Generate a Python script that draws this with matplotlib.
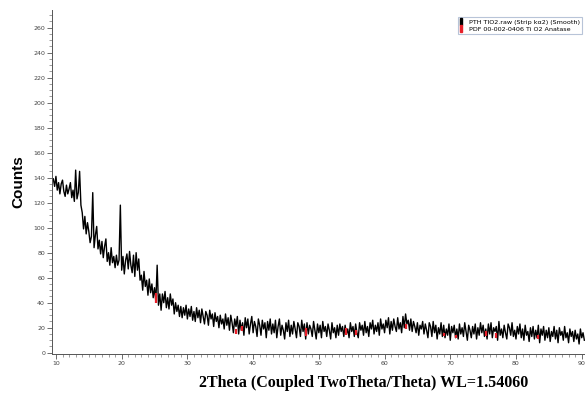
import numpy as np
import matplotlib.pyplot as plt
from matplotlib.patches import Patch
from matplotlib.ticker import MultipleLocator

# scan grid (2Theta, deg)
TTH_START = 9.6
TTH_STEP = 0.2

# smoothed counts; rows are whole degrees (first row 9.6-9.8, last 90.0-90.4)
counts = [
    139, 133,
    141, 130, 136, 127, 135,
    138, 129, 125, 134, 127,
    131, 136, 124, 130, 121,
    146, 123, 128, 145, 118,
    112, 99, 109, 95, 104,
    97, 88, 93, 128, 84,
    94, 101, 83, 90, 79,
    89, 76, 85, 91, 73,
    80, 70, 84, 72, 77,
    68, 78, 70, 74, 118,
    66, 77, 63, 74, 79,
    67, 81, 70, 64, 78,
    61, 80, 66, 75, 58,
    62, 50, 65, 53, 58,
    46, 59, 48, 55, 44,
    52, 41, 70, 38, 47,
    34, 47, 40, 49, 36,
    44, 35, 47, 38, 43,
    31, 40, 33, 38, 29,
    37, 28, 36, 30, 38,
    27, 35, 29, 37, 26,
    33, 25, 36, 28, 34,
    24, 35, 29, 23, 33,
    30, 22, 34, 27, 31,
    21, 32, 25, 29, 20,
    30, 23, 27, 19, 31,
    22, 28, 18, 30, 24,
    16, 27, 21, 29, 15,
    26, 18, 24, 14, 28,
    20, 27, 15, 23, 29,
    16, 25, 21, 13, 27,
    22, 14, 26, 19, 24,
    12, 25, 18, 27, 15,
    23, 16, 26, 12, 21,
    27, 14, 22, 18, 11,
    24, 17, 26, 13, 22,
    15, 25, 19, 12, 24,
    21, 13, 26, 17, 23,
    11, 24, 15, 22, 19,
    13, 25, 18, 11, 23,
    16, 22, 12, 25, 17,
    21, 13, 23, 18, 11,
    24, 16, 20, 12, 22,
    14, 23, 17, 21, 13,
    22, 15, 19, 12, 24,
    17, 21, 13, 23, 16,
    12, 24, 18, 22, 14,
    25, 16, 21, 13, 24,
    19, 26, 15, 22, 17,
    24, 14, 27, 19, 23,
    16, 26, 20, 28, 15,
    25, 18, 27, 21, 17,
    28, 19, 24, 16, 29,
    20, 31, 23, 26, 18,
    27, 17, 25, 21, 16,
    24, 14, 22, 19, 25,
    15, 23, 18, 12, 24,
    21, 13, 25, 16, 22,
    11, 20, 15, 24, 13,
    22, 12, 19, 14, 23,
    10, 21, 16, 22, 12,
    19, 11, 23, 15, 20,
    13, 24, 17, 10, 22,
    18, 12, 21, 15, 23,
    11, 20, 14, 24, 16,
    22, 13, 19, 11, 23,
    15, 24, 12, 20, 17,
    21, 10, 25, 14, 19,
    12, 22, 16, 11, 23,
    20, 14, 24, 13, 18,
    11, 21, 15, 23, 12,
    19, 10, 22, 14, 17,
    9, 20, 13, 21, 11,
    18, 12, 22, 8, 19,
    14, 21, 10, 18, 12,
    20, 9, 17, 13, 21,
    11, 18, 8, 20, 14,
    17, 10, 21, 12, 16,
    8, 19, 13, 17, 9,
    18, 11, 15, 7, 19,
    12, 16, 10,
]

# PDF 00-002-0406 TiO2 anatase reference sticks
pdf_pos = [25.28, 37.4, 38.3, 48.1, 54.2, 55.6, 63.2, 69.0, 70.9, 75.4, 77.0, 83.4]
pdf_low = [40, 15, 17, 13, 14, 14, 19, 13, 12, 13, 12, 11]
pdf_high = [48, 19, 21, 20, 20, 18, 23, 16, 14, 17, 16, 14]

tth = TTH_START + TTH_STEP * np.arange(len(counts))

fig = plt.figure(figsize=(5.85, 3.96), dpi=100)
ax = fig.add_axes([52 / 585, 42 / 396, 533 / 585, 344 / 396])

ax.plot(tth, counts, color="black", lw=1.0)
ax.vlines(pdf_pos, pdf_low, pdf_high, color="#e8202a", lw=1.6, zorder=3)

ax.set_xlim(9.4, 90.5)
ax.set_ylim(-1, 274)
ax.xaxis.set_major_locator(MultipleLocator(10))
ax.xaxis.set_minor_locator(MultipleLocator(1))
ax.yaxis.set_major_locator(MultipleLocator(20))
ax.yaxis.set_minor_locator(MultipleLocator(5))
ax.tick_params(which="major", length=3.5, width=0.6, color="#555555",
               labelsize=4.5, labelcolor="#444444", pad=1.5)
ax.tick_params(which="minor", length=2, width=0.5, color="#777777")
for s in ["top", "right"]:
    ax.spines[s].set_visible(False)
for s in ["left", "bottom"]:
    ax.spines[s].set_color("#555555")
    ax.spines[s].set_linewidth(0.7)

ax.set_ylabel("Counts", family="Liberation Sans", fontweight="bold", fontsize=11)
ax.yaxis.set_label_coords(-0.05, 0.5)
fig.text(364 / 585, 13 / 396, "2Theta (Coupled TwoTheta/Theta) WL=1.54060",
         family="Liberation Serif", fontweight="bold", fontsize=11.5,
         ha="center", va="center")

handles = [Patch(facecolor="black", edgecolor="black"),
           Patch(facecolor="#e8202a", edgecolor="#e8202a")]
labels = ["PTH TIO2.raw (Strip k\u03b12) (Smooth)", "PDF 00-002-0406 Ti O2 Anatase"]
leg = ax.legend(handles, labels, loc="upper right", bbox_to_anchor=(1.0, 0.99),
                fontsize=4.6, handlelength=0.3, handleheight=1.2,
                handletextpad=1.2, borderpad=0.25, labelspacing=0.1,
                fancybox=False, framealpha=1)
leg.get_frame().set_edgecolor("#b8c4d8")
leg.get_frame().set_linewidth(0.8)

fig.savefig("out.png", dpi=100)
